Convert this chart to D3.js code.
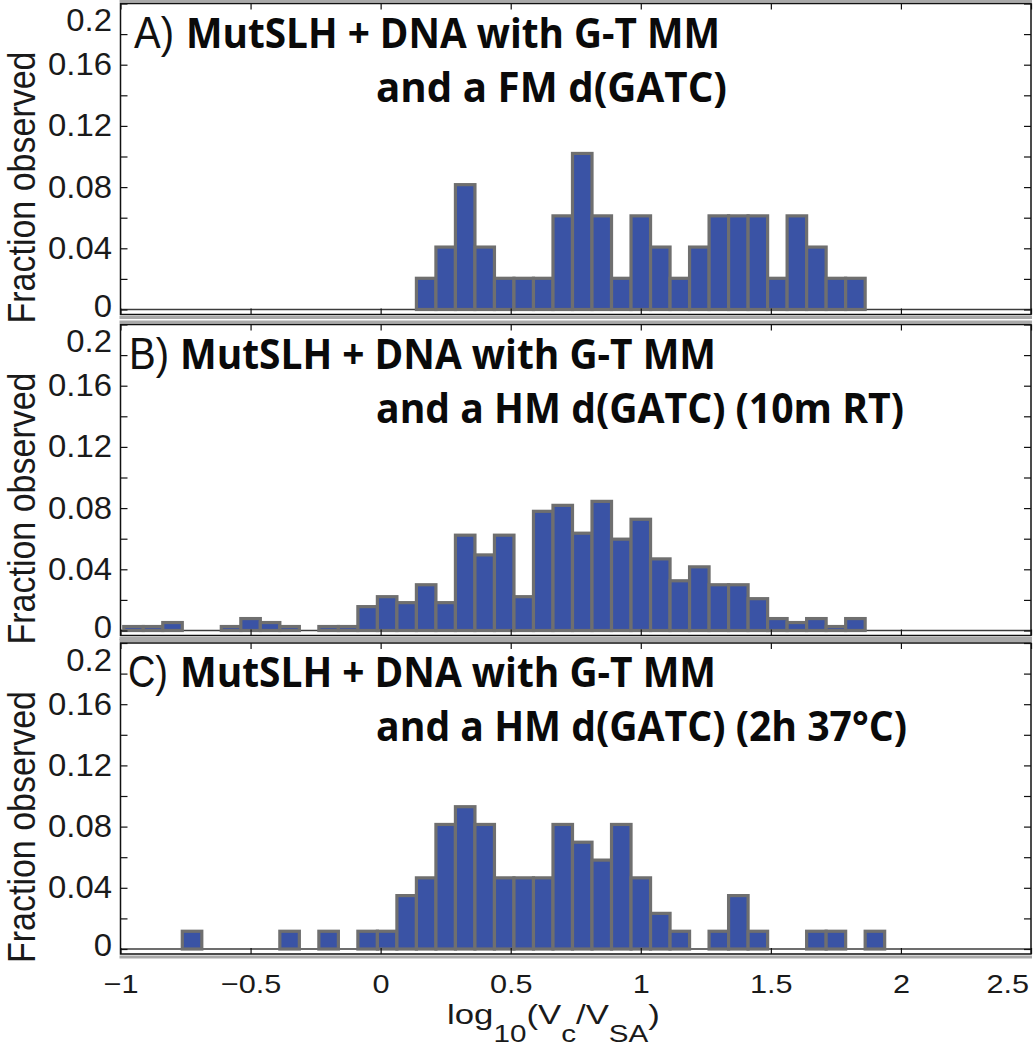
<!DOCTYPE html>
<html>
<head>
<meta charset="utf-8">
<script src="https://cdn.jsdelivr.net/npm/d3@7"></script>
<style>
  html, body { margin: 0; padding: 0; background: #ffffff; }
  svg { display: block; }
</style>
</head>
<body>
<svg id="chart" width="1034" height="1050"></svg>
<script>
// ---------------- data ----------------
const binCenters = [-0.95, -0.875, -0.8, -0.725, -0.65, -0.575, -0.5, -0.425, -0.35, -0.275,
  -0.2, -0.125, -0.05, 0.025, 0.1, 0.175, 0.25, 0.325, 0.4, 0.475,
  0.55, 0.625, 0.7, 0.775, 0.85, 0.925, 1.0, 1.075, 1.15, 1.225,
  1.3, 1.375, 1.45, 1.525, 1.6, 1.675, 1.75, 1.825, 1.9, 1.975,
  2.05, 2.125, 2.2, 2.275, 2.35, 2.425, 2.5];
const binWidth = 0.075;

const fracA = [0, 0, 0, 0, 0, 0, 0, 0, 0, 0,
  0, 0, 0, 0, 0, 0.0204, 0.0408, 0.0816, 0.0408, 0.0204,
  0.0204, 0.0204, 0.0612, 0.102, 0.0612, 0.0204, 0.0612, 0.0408, 0.0204, 0.0408,
  0.0612, 0.0612, 0.0612, 0.0204, 0.0612, 0.0408, 0.0204, 0.0204, 0, 0,
  0, 0, 0, 0, 0, 0, 0];

const fracB = [0.0026, 0.0026, 0.0052, 0, 0, 0.0026, 0.0078, 0.0052, 0.0026, 0,
  0.0026, 0.0026, 0.0156, 0.0221, 0.0182, 0.0299, 0.0182, 0.0623, 0.0494, 0.0623,
  0.0221, 0.0779, 0.0818, 0.0636, 0.0844, 0.0597, 0.0727, 0.0468, 0.0325, 0.0416,
  0.0299, 0.0299, 0.0208, 0.0078, 0.0052, 0.0078, 0.0026, 0.0078, 0, 0,
  0, 0, 0, 0, 0, 0, 0];

const fracC = [0, 0, 0, 0.0116, 0, 0, 0, 0, 0.0116, 0,
  0.0116, 0, 0.0116, 0.0116, 0.0349, 0.0465, 0.0814, 0.093, 0.0814, 0.0465,
  0.0465, 0.0465, 0.0814, 0.0698, 0.0581, 0.0814, 0.0465, 0.0233, 0.0116, 0,
  0.0116, 0.0349, 0.0116, 0, 0, 0.0116, 0.0116, 0, 0.0116, 0,
  0, 0, 0, 0, 0, 0, 0];

const panelLetters = ["A)", "B)", "C)"];
const titleLine1 = ["MutSLH + DNA with G-T MM", "MutSLH + DNA with G-T MM", "MutSLH + DNA with G-T MM"];
const titleLine2 = ["and a FM d(GATC)", "and a HM d(GATC) (10m RT)", "and a HM d(GATC) (2h 37\u00B0C)"];

const yTickValues = [0, 0.02, 0.04, 0.06, 0.08, 0.1, 0.12, 0.14, 0.16, 0.18, 0.2];
const yTickLabels = ["0", "", "0.04", "", "0.08", "", "0.12", "", "0.16", "", "0.2"];
const xTickValues = [-1, -0.5, 0, 0.5, 1, 1.5, 2, 2.5];
const xTickLabels = ["\u22121", "\u22120.5", "0", "0.5", "1", "1.5", "2", "2.5"];
const yAxisTitle = "Fraction observed";

// ---------------- layout ----------------
const series = [fracA, fracB, fracC];
const panelZero = [309.5, 630.5, 949];
const panelSpan = 306;           // pixels for 0 -> 0.2
const titleStart1 = [186, 180, 180];
const titleWidth1 = [534, 536, 536];
const titleWidth2 = [351, 528, 531];
const letterX = [134, 129, 128];
const barFill = "#3a53a5";
const barEdge = "#6f6f6f";

const svg = d3.select("#chart");
const x = d3.scaleLinear().domain([-1, 2.5]).range([120.5, 1031]);
const left = x(-1), right = x(2.5);

series.forEach((vals, k) => {
  const zero = panelZero[k];
  const y = d3.scaleLinear().domain([0, 0.2]).range([zero, zero - panelSpan]);
  const top = y(0.2), bottom = zero + 5;
  const g = svg.append("g");

  // grey bands around the box (top and bottom)
  g.append("rect").attr("x", left - 1).attr("y", top - 4).attr("width", right - left + 2)
    .attr("height", 3).attr("fill", "#a9a9a9");
  g.append("rect").attr("x", left - 1).attr("y", bottom + 1.5).attr("width", right - left + 2)
    .attr("height", 3).attr("fill", "#a9a9a9");

  const clipId = "clip" + k;
  svg.append("clipPath").attr("id", clipId).append("rect")
    .attr("x", left).attr("y", top).attr("width", right - left).attr("height", bottom - top);

  const plot = g.append("g").attr("clip-path", `url(#${clipId})`);

  // baseline (zero-height bins)
  plot.append("line").attr("x1", left).attr("x2", right).attr("y1", y(0)).attr("y2", y(0))
    .attr("stroke", "#3c3c3c").attr("stroke-width", 1.6);

  // bars
  const data = binCenters.map((c, i) => ({ c, v: vals[i] })).filter(d => d.v > 0);
  plot.selectAll("rect.bar").data(data).join("rect")
    .attr("class", "bar")
    .attr("x", d => x(d.c - binWidth / 2))
    .attr("width", d => x(d.c + binWidth / 2) - x(d.c - binWidth / 2))
    .attr("y", d => y(d.v))
    .attr("height", d => y(0) - y(d.v))
    .attr("fill", barFill)
    .attr("stroke", barEdge)
    .attr("stroke-width", 3.2);

  // frame
  g.append("rect").attr("x", left).attr("y", top).attr("width", right - left)
    .attr("height", bottom - top).attr("fill", "none")
    .attr("stroke", "#111").attr("stroke-width", 1.5);

  // left y axis
  const yl = g.append("g").attr("transform", `translate(${left},0)`)
    .call(d3.axisLeft(y).tickValues(yTickValues).tickSize(-7).tickPadding(8)
      .tickFormat((d, i) => yTickLabels[i]));
  yl.select(".domain").remove();
  yl.selectAll(".tick line").attr("stroke", "#111").attr("stroke-width", 1.2);
  yl.selectAll(".tick text")
    .attr("font-family", "'Liberation Sans', Arial, sans-serif")
    .attr("font-size", 31).attr("fill", "#1a1a1a")
    .attr("transform", "scale(1.06,1)")
    .attr("dy", (d) => d === 0.2 ? "0.88em" : (d === 0 ? "0.22em" : "0.32em"));

  // right mirrored ticks
  const yr = g.append("g").attr("transform", `translate(${right},0)`)
    .call(d3.axisRight(y).tickValues(yTickValues).tickSize(-7).tickFormat(""));
  yr.select(".domain").remove();
  yr.selectAll(".tick line").attr("stroke", "#111").attr("stroke-width", 1.2);

  // top mirrored ticks
  const xt = g.append("g").attr("transform", `translate(0,${top})`)
    .call(d3.axisTop(x).tickValues(xTickValues).tickSize(-6).tickFormat(""));
  xt.select(".domain").remove();
  xt.selectAll(".tick line").attr("stroke", "#111").attr("stroke-width", 1.2);

  // bottom x axis
  const xb = g.append("g").attr("transform", `translate(0,${bottom})`)
    .call(d3.axisBottom(x).tickValues(xTickValues).tickSize(-6).tickPadding(21)
      .tickFormat((d, i) => k === 2 ? xTickLabels[i] : ""));
  xb.select(".domain").remove();
  xb.selectAll(".tick line").attr("stroke", "#111").attr("stroke-width", 1.2);
  xb.selectAll(".tick text")
    .attr("font-family", "'Liberation Sans', Arial, sans-serif")
    .attr("font-size", 26).attr("fill", "#1a1a1a")
    .attr("transform", "scale(1.18,1)")
    .attr("text-anchor", d => d === 2.5 ? "end" : "middle")
    .attr("x", d => d === 2.5 ? -2 : 0);

  // y axis title
  g.append("text")
    .attr("transform", `translate(35,${zero - 122}) scale(1.12,1) rotate(-90)`)
    .attr("text-anchor", "middle")
    .attr("font-family", "'Liberation Sans', Arial, sans-serif")
    .attr("font-size", 34).attr("fill", "#1a1a1a")
    .text(yAxisTitle);

  // panel titles
  g.append("text")
    .attr("x", letterX[k]).attr("y", top + 44)
    .attr("font-family", "'Liberation Sans', Arial, sans-serif")
    .attr("font-size", 44).attr("fill", "#111")
    .attr("textLength", 40).attr("lengthAdjust", "spacingAndGlyphs")
    .text(panelLetters[k]);
  g.append("text")
    .attr("x", titleStart1[k]).attr("y", top + 44)
    .attr("font-family", "'Open Sans', sans-serif").attr("font-weight", 700)
    .attr("font-size", 42).attr("fill", "#0a0a0a")
    .attr("textLength", titleWidth1[k]).attr("lengthAdjust", "spacingAndGlyphs")
    .text(titleLine1[k]);
  g.append("text")
    .attr("x", 376).attr("y", top + 98)
    .attr("font-family", "'Open Sans', sans-serif").attr("font-weight", 700)
    .attr("font-size", 42).attr("fill", "#0a0a0a")
    .attr("textLength", titleWidth2[k]).attr("lengthAdjust", "spacingAndGlyphs")
    .text(titleLine2[k]);
});

// x axis title: log10(Vc/VSA)
const xtg = svg.append("g");
const xtitle = xtg.append("text")
  .attr("text-anchor", "middle")
  .attr("font-family", "'Liberation Sans', Arial, sans-serif")
  .attr("font-size", 27).attr("fill", "#1a1a1a");
const parts = [["log", 0, 27], ["10", 18, 23], ["(V", -18, 27], ["c", 18, 23], ["/V", -18, 27], ["SA", 18, 23], [")", -18, 27]];
parts.forEach(([t, dy, fs]) => xtitle.append("tspan").attr("dy", dy).attr("font-size", fs).text(t));
const len = xtitle.node().getComputedTextLength();
const sx = 213 / len;
xtg.attr("transform", `translate(553.5,1024) scale(${sx},1)`);
</script>
</body>
</html>
